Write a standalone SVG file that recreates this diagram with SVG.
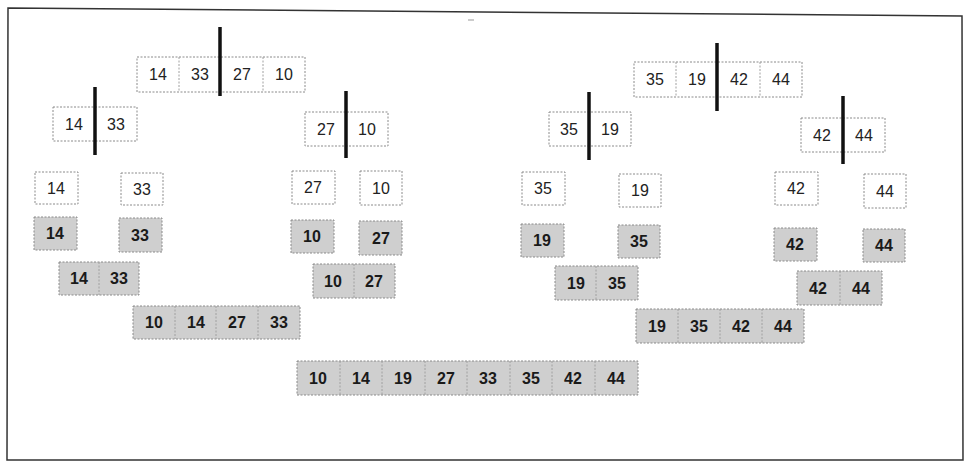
<svg xmlns="http://www.w3.org/2000/svg" width="968" height="469" viewBox="0 0 968 469">
<style>
.w{fill:#fff;stroke:#8a8a8a;stroke-width:1;stroke-dasharray:2 1.5}
.g{fill:#cfcfcf;stroke:#8a8a8a;stroke-width:1;stroke-dasharray:2 1.5}
.sep{stroke:#a0a0a0;stroke-width:1;stroke-dasharray:2 1.5}
.t{font-family:"Liberation Sans",Arial,sans-serif;font-size:16px;fill:#222;text-anchor:middle}
.tb{font-family:"Liberation Sans",Arial,sans-serif;font-size:16px;font-weight:bold;fill:#1a1a1a;text-anchor:middle}
.div{stroke:#111;stroke-width:3.5}
.frame{fill:none;stroke:#333;stroke-width:1.5}
</style>
<rect width="968" height="469" fill="#fff"/>
<polygon class="frame" points="8,8 962,16 963,460 7,460"/>
<line x1="468" y1="20" x2="474" y2="20" stroke="#999" stroke-width="1"/>

<!-- row 1 -->
<g id="n-14-33-27-10">
<rect class="w" x="137" y="57" width="168" height="35"/>
<line class="sep" x1="179" y1="57" x2="179" y2="92"/><line class="sep" x1="263" y1="57" x2="263" y2="92"/>
<text class="t" x="158" y="80">14</text><text class="t" x="200" y="80">33</text><text class="t" x="242" y="80">27</text><text class="t" x="284" y="80">10</text>
</g>
<g id="n-35-19-42-44">
<rect class="w" x="634" y="62" width="168" height="35"/>
<line class="sep" x1="676" y1="62" x2="676" y2="97"/><line class="sep" x1="760" y1="62" x2="760" y2="97"/>
<text class="t" x="655" y="85">35</text><text class="t" x="697" y="85">19</text><text class="t" x="739" y="85">42</text><text class="t" x="781" y="85">44</text>
</g>

<!-- row 2 -->
<g id="n-14-33">
<rect class="w" x="53" y="107" width="84" height="34"/>
<text class="t" x="74" y="130">14</text><text class="t" x="116" y="130">33</text>
</g>
<g id="n-27-10">
<rect class="w" x="305" y="112" width="83" height="34"/>
<text class="t" x="326" y="135">27</text><text class="t" x="367" y="135">10</text>
</g>
<g id="n-35-19">
<rect class="w" x="549" y="112" width="82" height="34"/>
<text class="t" x="569" y="135">35</text><text class="t" x="610" y="135">19</text>
</g>
<g id="n-42-44">
<rect class="w" x="801" y="118" width="84" height="34"/>
<text class="t" x="822" y="141">42</text><text class="t" x="864" y="141">44</text>
</g>

<!-- row 3 singles -->
<g id="n-s14"><rect class="w" x="35" y="172" width="43" height="32"/><text class="t" x="56" y="194">14</text></g>
<g id="n-s33"><rect class="w" x="121" y="173" width="42" height="32"/><text class="t" x="142" y="195">33</text></g>
<g id="n-s27"><rect class="w" x="292" y="171" width="43" height="33"/><text class="t" x="313" y="193">27</text></g>
<g id="n-s10"><rect class="w" x="360" y="171" width="42" height="34"/><text class="t" x="381" y="194">10</text></g>
<g id="n-s35"><rect class="w" x="522" y="172" width="43" height="33"/><text class="t" x="543" y="194">35</text></g>
<g id="n-s19"><rect class="w" x="619" y="174" width="42" height="33"/><text class="t" x="640" y="196">19</text></g>
<g id="n-s42"><rect class="w" x="775" y="172" width="43" height="33"/><text class="t" x="796" y="194">42</text></g>
<g id="n-s44"><rect class="w" x="864" y="174" width="42" height="34"/><text class="t" x="885" y="197">44</text></g>

<!-- row 4 gray singles -->
<g id="n-g14"><rect class="g" x="34" y="217" width="43" height="33"/><text class="tb" x="55" y="239">14</text></g>
<g id="n-g33"><rect class="g" x="119" y="218" width="43" height="34"/><text class="tb" x="140" y="241">33</text></g>
<g id="n-g10"><rect class="g" x="291" y="220" width="43" height="33"/><text class="tb" x="312" y="242">10</text></g>
<g id="n-g27"><rect class="g" x="359" y="221" width="43" height="34"/><text class="tb" x="381" y="244">27</text></g>
<g id="n-g19"><rect class="g" x="521" y="224" width="43" height="33"/><text class="tb" x="542" y="246">19</text></g>
<g id="n-g35"><rect class="g" x="618" y="225" width="42" height="33"/><text class="tb" x="639" y="247">35</text></g>
<g id="n-g42"><rect class="g" x="774" y="228" width="43" height="33"/><text class="tb" x="795" y="250">42</text></g>
<g id="n-g44"><rect class="g" x="863" y="229" width="42" height="33"/><text class="tb" x="884" y="251">44</text></g>

<!-- row 5 gray pairs -->
<g id="n-g14-33">
<rect class="g" x="59" y="262" width="80" height="33"/><line class="sep" x1="99" y1="262" x2="99" y2="295"/>
<text class="tb" x="79" y="284">14</text><text class="tb" x="119" y="284">33</text>
</g>
<g id="n-g10-27">
<rect class="g" x="313" y="264" width="82" height="34"/><line class="sep" x1="354" y1="264" x2="354" y2="298"/>
<text class="tb" x="333" y="287">10</text><text class="tb" x="374" y="287">27</text>
</g>
<g id="n-g19-35">
<rect class="g" x="555" y="266" width="83" height="34"/><line class="sep" x1="596" y1="266" x2="596" y2="300"/>
<text class="tb" x="576" y="289">19</text><text class="tb" x="617" y="289">35</text>
</g>
<g id="n-g42-44">
<rect class="g" x="797" y="271" width="85" height="34"/><line class="sep" x1="840" y1="271" x2="840" y2="305"/>
<text class="tb" x="818" y="294">42</text><text class="tb" x="861" y="294">44</text>
</g>

<!-- row 6 gray quads -->
<g id="n-g10-14-27-33">
<rect class="g" x="133" y="306" width="167" height="33"/>
<line class="sep" x1="175" y1="306" x2="175" y2="339"/><line class="sep" x1="216" y1="306" x2="216" y2="339"/><line class="sep" x1="258" y1="306" x2="258" y2="339"/>
<text class="tb" x="154" y="328">10</text><text class="tb" x="196" y="328">14</text><text class="tb" x="237" y="328">27</text><text class="tb" x="279" y="328">33</text>
</g>
<g id="n-g19-35-42-44">
<rect class="g" x="636" y="309" width="168" height="34"/>
<line class="sep" x1="678" y1="309" x2="678" y2="343"/><line class="sep" x1="720" y1="309" x2="720" y2="343"/><line class="sep" x1="762" y1="309" x2="762" y2="343"/>
<text class="tb" x="657" y="332">19</text><text class="tb" x="699" y="332">35</text><text class="tb" x="741" y="332">42</text><text class="tb" x="783" y="332">44</text>
</g>

<!-- row 7 final -->
<g id="n-final">
<rect class="g" x="297" y="361" width="341" height="34"/>
<line class="sep" x1="340" y1="361" x2="340" y2="395"/><line class="sep" x1="382" y1="361" x2="382" y2="395"/><line class="sep" x1="425" y1="361" x2="425" y2="395"/><line class="sep" x1="467" y1="361" x2="467" y2="395"/><line class="sep" x1="510" y1="361" x2="510" y2="395"/><line class="sep" x1="552" y1="361" x2="552" y2="395"/><line class="sep" x1="595" y1="361" x2="595" y2="395"/>
<text class="tb" x="318" y="384">10</text><text class="tb" x="361" y="384">14</text><text class="tb" x="403" y="384">19</text><text class="tb" x="446" y="384">27</text><text class="tb" x="488" y="384">33</text><text class="tb" x="531" y="384">35</text><text class="tb" x="573" y="384">42</text><text class="tb" x="616" y="384">44</text>
</g>

<!-- split markers -->
<g id="connectors">
<line class="div" x1="220" y1="27" x2="220" y2="96"/>
<line class="div" x1="717" y1="43" x2="717" y2="111"/>
<line class="div" x1="95" y1="87" x2="95" y2="155"/>
<line class="div" x1="346" y1="91" x2="346" y2="158"/>
<line class="div" x1="589" y1="92" x2="589" y2="160"/>
<line class="div" x1="843" y1="96" x2="843" y2="164"/>
</g>
</svg>
